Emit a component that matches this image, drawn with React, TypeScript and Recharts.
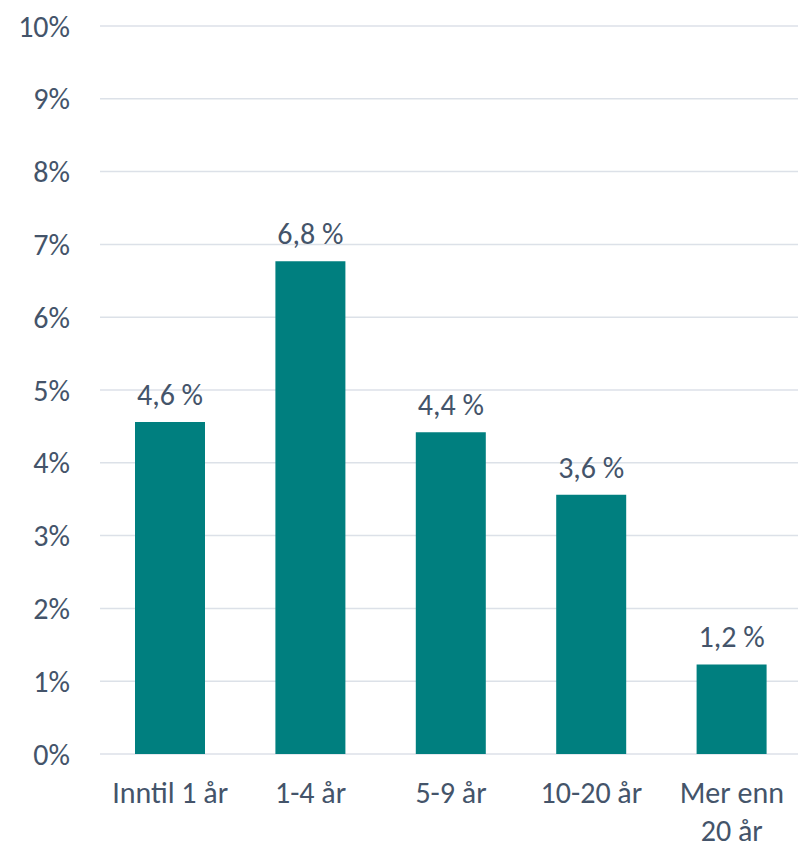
import React from 'react';
import { BarChart, Bar, XAxis, YAxis, CartesianGrid, LabelList } from 'recharts';

const categories = ['Inntil 1 år', '1-4 år', '5-9 år', '10-20 år', 'Mer enn 20 år'];
// how each category label is broken across lines under the axis
const categoryLines = [['Inntil 1 år'], ['1-4 år'], ['5-9 år'], ['10-20 år'], ['Mer enn', '20 år']];
const shares = [4.56, 6.77, 4.42, 3.56, 1.23];
const yTicks = [0, 1, 2, 3, 4, 5, 6, 7, 8, 9, 10];

const data = categories.map((name, i) => ({ name, value: shares[i] }));

const FONT = 'Carlito, Calibri, Lato, sans-serif';
const TEXT = '#44546A';
const SIZE = 30;

const fmtLabel = (v: any) => `${Number(v).toFixed(1).replace('.', ',')} %`;

const CategoryTick = (props: any) => {
  const { x, y, payload } = props;
  const idx = categories.indexOf(payload.value);
  const lines = idx >= 0 ? categoryLines[idx] : [payload.value];
  return (
    <text x={x} y={y} textAnchor="middle" fill={TEXT} fontSize={SIZE} fontFamily={FONT}>
      {lines.map((line: string, i: number) => (
        <tspan key={i} x={x} dy={i === 0 ? '0.71em' : 38}>
          {line}
        </tspan>
      ))}
    </text>
  );
};

export default function App() {
  return (
    <div style={{ position: 'fixed', left: 0, top: 0, width: 798, height: 846, overflow: 'hidden', background: '#fff' }}>
      <BarChart
        width={806}
        height={846}
        data={data}
        margin={{ top: 26, right: 4, left: 0, bottom: 0 }}
      >
        <CartesianGrid vertical={false} stroke="#DCE1E8" strokeWidth={1.5} />
        <XAxis
          dataKey="name"
          axisLine={false}
          tickLine={false}
          height={92}
          tickMargin={22}
          interval={0}
          tick={<CategoryTick />}
        />
        <YAxis
          domain={[0, 10]}
          ticks={yTicks}
          axisLine={false}
          tickLine={false}
          width={100}
          tickMargin={24}
          tickFormatter={(v) => `${v}%`}
          tick={{ fill: TEXT, fontSize: SIZE, fontFamily: FONT }}
        />
        <Bar dataKey="value" fill="#007F7F" barSize={70} isAnimationActive={false}>
          <LabelList
            dataKey="value"
            position="top"
            offset={17}
            formatter={fmtLabel}
            fill={TEXT}
            fontSize={SIZE}
            fontFamily={FONT}
          />
        </Bar>
      </BarChart>
    </div>
  );
}
